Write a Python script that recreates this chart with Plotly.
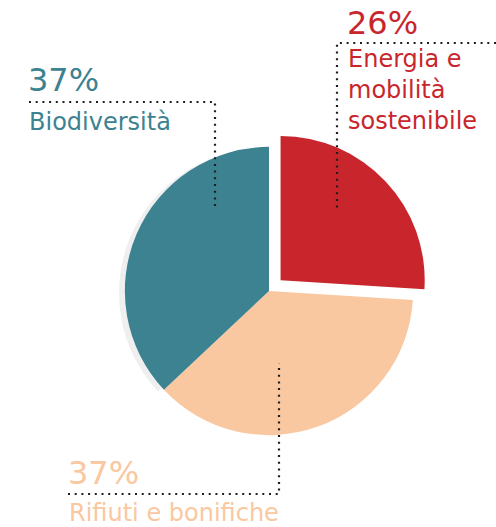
import plotly.graph_objects as go

# Shares of the budget by area
categories = ["Energia e<br>mobilità<br>sostenibile", "Rifiuti e bonifiche", "Biodiversità"]
values = [26, 37, 37]
colors = ["#C8262C", "#F9C8A0", "#3C8291"]
pulls = [0.11, 0, 0]

W, H = 496, 527
FONT = "DejaVu Sans"
LEADER = "#1e1e1e"


def dom_x(x0, x1):
    return [x0 / W, x1 / W]


def dom_y(top, bottom):
    return [1 - bottom / H, 1 - top / H]


fig = go.Figure()

# soft shadow under the blue-green slice
fig.add_trace(go.Pie(
    values=values,
    sort=False,
    direction="clockwise",
    rotation=0,
    marker=dict(colors=["rgba(0,0,0,0)", "rgba(0,0,0,0)", "#EFEFEF"]),
    textinfo="none",
    hoverinfo="skip",
    showlegend=False,
    domain=dict(x=dom_x(263 - 144, 263 + 144), y=dom_y(293 - 144, 293 + 144)),
))

# main pie
fig.add_trace(go.Pie(
    labels=[c.replace("<br>", " ") for c in categories],
    values=values,
    sort=False,
    direction="clockwise",
    rotation=0,
    pull=pulls,
    marker=dict(colors=colors),
    textinfo="none",
    hoverinfo="label+percent",
    showlegend=False,
    domain=dict(x=dom_x(109, 429), y=dom_y(131, 451)),
))

# dotted leader lines
dot = dict(color=LEADER, width=2.2, dash="2px,4.7px")
paths = [
    "M 29 102 L 215 102 L 215 207",
    "M 496 43 L 337 43 L 337 208",
    "M 68 494 L 279 494 L 279 363",
]
for p in paths:
    fig.add_shape(type="path", path=p, xref="x", yref="y", line=dot)

# labels: percentage above the leader, category name below
label_pos = [
    # (x, y of percent, y of name)
    (345, 23, 90),
    (66, 473, 513),
    (26, 80, 122),
]
for val, cat, col, (lx, py, ny) in zip(values, categories, colors, label_pos):
    fig.add_annotation(x=lx, y=py, xref="x", yref="y", text=f"{val}%",
                       showarrow=False, xanchor="left", yanchor="middle",
                       font=dict(family=FONT, size=32, color=col))
    fig.add_annotation(x=lx + 1, y=ny, xref="x", yref="y", text=cat,
                       showarrow=False, xanchor="left", yanchor="middle", align="left",
                       font=dict(family=FONT, size=24, color=col))

fig.update_layout(
    width=W, height=H,
    margin=dict(l=0, r=0, t=0, b=0),
    paper_bgcolor="white",
    plot_bgcolor="white",
    xaxis=dict(range=[0, W], visible=False, fixedrange=True),
    yaxis=dict(range=[H, 0], visible=False, fixedrange=True),
    showlegend=False,
)

fig.write_html("out.html")
